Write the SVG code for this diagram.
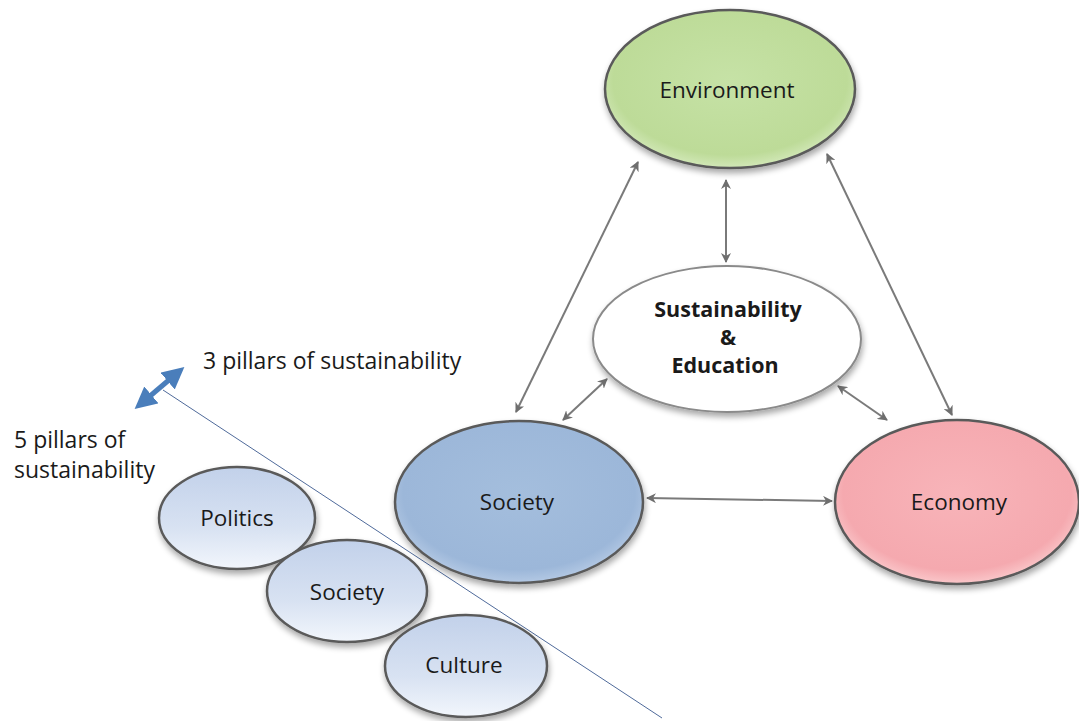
<svg xmlns="http://www.w3.org/2000/svg" width="1079" height="721" viewBox="0 0 1079 721">
  <defs>
    <style>
      .lbl { font-family: "Open Sans", "Noto Sans", sans-serif; font-size: 22.5px; fill: #1a1a1a; text-anchor: middle; }
      .bold { font-weight: bold; font-size: 21.5px; }
      .note { font-family: "Open Sans", "Noto Sans", sans-serif; font-size: 23px; fill: #1a1a1a; }
      .rim { stroke: #5a5a5a; stroke-width: 2.5; }
      .conn { stroke: #7a7a7a; stroke-width: 2; fill: none; marker-start: url(#tip); marker-end: url(#tip); }
    </style>
    <marker id="tip" viewBox="0 0 10 10" refX="9" refY="5" markerWidth="5" markerHeight="5" orient="auto-start-reverse" markerUnits="strokeWidth">
      <path d="M0,0 L10,5 L0,10 L3,5 Z" fill="#6e6e6e"/>
    </marker>
    <marker id="bluetip" viewBox="0 0 10 10" refX="5" refY="5" markerWidth="4.4" markerHeight="4.4" orient="auto-start-reverse" markerUnits="strokeWidth">
      <path d="M0,0 L10,5 L0,10 Z" fill="#4a7ebb"/>
    </marker>
    <filter id="shadow" x="-20%" y="-20%" width="140%" height="150%">
      <feGaussianBlur in="SourceAlpha" stdDeviation="3"/>
      <feOffset dx="1" dy="4" result="b"/>
      <feComponentTransfer><feFuncA type="linear" slope="0.35"/></feComponentTransfer>
      <feMerge><feMergeNode/><feMergeNode in="SourceGraphic"/></feMerge>
    </filter>
    <radialGradient id="green" cx="50%" cy="45%" r="55%">
      <stop offset="0" stop-color="#c6e2a6"/>
      <stop offset="0.85" stop-color="#bddb98"/>
      <stop offset="1" stop-color="#d2e8b8"/>
    </radialGradient>
    <radialGradient id="blue" cx="50%" cy="45%" r="55%">
      <stop offset="0" stop-color="#a4bedd"/>
      <stop offset="0.85" stop-color="#9cb7d9"/>
      <stop offset="1" stop-color="#b4c9e4"/>
    </radialGradient>
    <radialGradient id="pink" cx="50%" cy="45%" r="55%">
      <stop offset="0" stop-color="#f8b4b9"/>
      <stop offset="0.85" stop-color="#f5a9af"/>
      <stop offset="1" stop-color="#fac7ca"/>
    </radialGradient>
    <linearGradient id="pale" x1="0" y1="0" x2="0" y2="1">
      <stop offset="0" stop-color="#c2d1ea"/>
      <stop offset="0.6" stop-color="#d8e2f2"/>
      <stop offset="1" stop-color="#f2f6fc"/>
    </linearGradient>
  </defs>

  <rect width="1079" height="721" fill="#ffffff"/>

  <!-- divider between the 3-pillar and 5-pillar views -->
  <line x1="163" y1="390" x2="662" y2="718" stroke="#4f6a9a" stroke-width="1"/>

  <!-- connectors -->
  <g id="connectors">
    <line class="conn" x1="638" y1="162" x2="516" y2="412"/>
    <line class="conn" x1="726" y1="180" x2="726" y2="262"/>
    <line class="conn" x1="827" y1="154" x2="952" y2="415"/>
    <line class="conn" x1="607" y1="379" x2="563" y2="420"/>
    <line class="conn" x1="838" y1="386" x2="887" y2="420"/>
    <line class="conn" x1="647" y1="498" x2="832" y2="501"/>
  </g>

  <g id="environment">
    <ellipse cx="730" cy="89" rx="125" ry="79" fill="url(#green)" class="rim" filter="url(#shadow)"/>
    <text class="lbl" x="727" y="98">Environment</text>
  </g>

  <g id="sustainability-education">
    <ellipse cx="727" cy="339" rx="134" ry="73" fill="#ffffff" stroke="#8a8a8a" stroke-width="2" filter="url(#shadow)"/>
    <text class="lbl bold" x="728" y="317">Sustainability</text>
    <text class="lbl bold" x="728" y="345">&amp;</text>
    <text class="lbl bold" x="725" y="373">Education</text>
  </g>

  <g id="society">
    <ellipse cx="519" cy="502" rx="124" ry="81" fill="url(#blue)" class="rim" filter="url(#shadow)"/>
    <text class="lbl" x="517" y="510">Society</text>
  </g>

  <g id="economy">
    <ellipse cx="957" cy="502" rx="122" ry="82" fill="url(#pink)" class="rim" filter="url(#shadow)"/>
    <text class="lbl" x="959" y="510">Economy</text>
  </g>

  <g id="politics">
    <ellipse cx="237" cy="518" rx="78" ry="51" fill="url(#pale)" class="rim" filter="url(#shadow)"/>
    <text class="lbl" x="237" y="526">Politics</text>
  </g>

  <g id="society-small">
    <ellipse cx="347" cy="591" rx="80" ry="51" fill="url(#pale)" class="rim" filter="url(#shadow)"/>
    <text class="lbl" x="347" y="600">Society</text>
  </g>

  <g id="culture">
    <ellipse cx="466" cy="666" rx="81" ry="51" fill="url(#pale)" class="rim" filter="url(#shadow)"/>
    <text class="lbl" x="464" y="673">Culture</text>
  </g>

  <!-- pillar-view toggle -->
  <g id="pillar-switch">
    <line x1="143" y1="402" x2="176" y2="374" stroke="#4a7ebb" stroke-width="5" marker-start="url(#bluetip)" marker-end="url(#bluetip)"/>
    <text class="note" x="203" y="369">3 pillars of sustainability</text>
    <text class="note" x="14" y="448">5 pillars of</text>
    <text class="note" x="14" y="478">sustainability</text>
  </g>
</svg>
